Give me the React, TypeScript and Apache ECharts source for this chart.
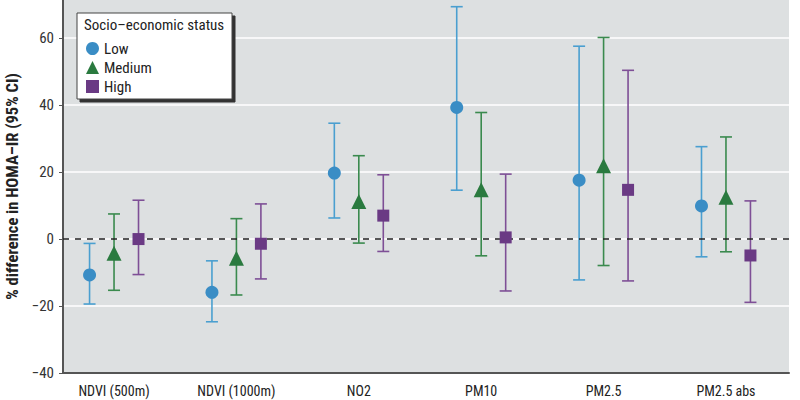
import React, { useEffect, useRef } from "react";
import * as echarts from "echarts";

const categories = ["NDVI (500m)", "NDVI (1000m)", "NO2", "PM10", "PM2.5", "PM2.5 abs"];
const groups = ["Low", "Medium", "High"];

const lowEst = [-10.7, -15.9, 19.7, 39.3, 17.6, 9.9];
const lowLo = [-19.4, -24.7, 6.3, 14.6, -12.2, -5.3];
const lowHi = [-1.3, -6.5, 34.6, 69.4, 57.6, 27.6];

const medEst = [-4.2, -5.7, 11.2, 14.7, 21.9, 12.5];
const medLo = [-15.3, -16.7, -1.2, -5.0, -7.9, -3.8];
const medHi = [7.5, 6.1, 24.9, 37.8, 60.2, 30.5];

const highEst = [0.0, -1.4, 7.0, 0.5, 14.7, -4.9];
const highLo = [-10.6, -11.9, -3.7, -15.5, -12.5, -18.9];
const highHi = [11.6, 10.5, 19.2, 19.4, 50.4, 11.4];

const yTicks = [-40, -20, 0, 20, 40, 60];

const FONT = "'Liberation Sans Narrow', 'Roboto Condensed', 'DejaVu Sans Condensed', Roboto, sans-serif";

const offsets = [-0.2, 0, 0.2];
const markerColors = ["#3a8dc5", "#2a7a3f", "#6a3a84"];
const barColors = ["#4a9fd0", "#3a8a4e", "#7e4f96"];
const symbols = ["circle", "triangle", "rect"];
const symbolSizes = [13, 15, 12];

export default function App() {
  const ref = useRef<HTMLDivElement>(null);
  useEffect(() => {
    if (!ref.current) return;
    const chart = echarts.init(ref.current, null, { renderer: "svg" });
    const est = [lowEst, medEst, highEst];
    const lo = [lowLo, medLo, highLo];
    const hi = [lowHi, medHi, highHi];

    const errorSeries = groups.map((g, gi) => ({
      type: "custom",
      name: g + " CI",
      z: 3,
      data: categories.map((_, i) => [i + 1 + offsets[gi], lo[gi][i], hi[gi][i]]),
      encode: { x: 0, y: [1, 2] },
      renderItem: (params: any, api: any) => {
        const x = api.value(0);
        const pLo = api.coord([x, api.value(1)]);
        const pHi = api.coord([x, api.value(2)]);
        const cap = 6;
        const style = { stroke: barColors[gi], lineWidth: 1.6 };
        return {
          type: "group",
          children: [
            { type: "line", shape: { x1: pLo[0], y1: pLo[1], x2: pHi[0], y2: pHi[1] }, style },
            { type: "line", shape: { x1: pLo[0] - cap, y1: pLo[1], x2: pLo[0] + cap, y2: pLo[1] }, style },
            { type: "line", shape: { x1: pHi[0] - cap, y1: pHi[1], x2: pHi[0] + cap, y2: pHi[1] }, style },
          ],
        };
      },
    }));

    const pointSeries = groups.map((g, gi) => ({
      type: "scatter",
      name: g,
      z: 5,
      symbol: symbols[gi],
      symbolSize: symbolSizes[gi],
      itemStyle: { color: markerColors[gi], opacity: 1 },
      data: categories.map((_, i) => [i + 1 + offsets[gi], est[gi][i]]),
    }));

    const option: any = {
      animation: false,
      backgroundColor: "#ffffff",
      textStyle: { fontFamily: FONT },
      grid: {
        left: 63,
        right: 11,
        top: 0,
        bottom: 27,
        outerBoundsMode: "none",
        containLabel: false,
        show: true,
        backgroundColor: "#dde0e1",
        borderWidth: 0,
      },
      xAxis: {
        type: "value",
        min: 0.583,
        max: 6.515,
        splitLine: { show: false },
        axisLine: { show: true, onZero: false, lineStyle: { color: "#555", width: 2 } },
        axisTick: { show: false },
        axisLabel: {
          customValues: [1, 2, 3, 4, 5, 6],
          formatter: (v: number) => categories[Math.round(v) - 1] ?? "",
          color: "#222",
          fontSize: 14,
          fontFamily: FONT,
          margin: 11,
        },
      },
      yAxis: {
        type: "value",
        min: -40,
        max: 71.4,
        interval: 20,
        name: "% difference in HOMA\u2013IR (95% CI)",
        nameLocation: "middle",
        nameGap: 42,
        nameTextStyle: { fontSize: 16.5, fontWeight: "bold", color: "#222", fontFamily: FONT },
        axisLine: { show: true, lineStyle: { color: "#555", width: 2 } },
        axisTick: { show: true, length: 4, lineStyle: { color: "#555" }, customValues: yTicks },
        axisLabel: {
          customValues: yTicks,
          formatter: (v: number) => (v < 0 ? "\u2212" + Math.abs(v) : String(v)),
          color: "#333",
          fontSize: 15,
          fontFamily: FONT,
          margin: 9,
        },
        splitLine: { show: true, lineStyle: { color: "#ffffff", width: 1.5 } },
      },
      legend: {
        data: groups,
        orient: "vertical",
        left: 86,
        top: 41,
        padding: 0,
        itemWidth: 13,
        itemHeight: 13,
        itemGap: 4,
        z: 10,
        textStyle: { fontSize: 15, lineHeight: 13, color: "#222", fontFamily: FONT },
      },
      graphic: [
        {
          type: "rect",
          z: 8,
          shape: { x: 77, y: 13, width: 155, height: 86 },
          style: {
            fill: "#ffffff",
            stroke: "#444",
            lineWidth: 1,
            shadowColor: "#333",
            shadowOffsetX: 3,
            shadowOffsetY: 3,
            shadowBlur: 0,
          },
        },
        {
          type: "text",
          z: 9,
          x: 84,
          y: 17,
          style: {
            text: "Socio\u2013economic status",
            fontSize: 15,
            fill: "#222",
            fontFamily: FONT,
          },
        },
      ],
      series: [
        ...errorSeries,
        ...pointSeries,
        {
          type: "line",
          name: "zero",
          data: [],
          markLine: {
            silent: true,
            symbol: "none",
            label: { show: false },
            lineStyle: { color: "#222", type: [6, 6], width: 1.5 },
            data: [{ yAxis: 0 }],
          },
        },
      ],
    };
    chart.setOption(option);
    return () => chart.dispose();
  }, []);
  return (
    <div
      ref={ref}
      style={{ position: "fixed", left: 0, top: 0, width: 800, height: 400 }}
    />
  );
}
